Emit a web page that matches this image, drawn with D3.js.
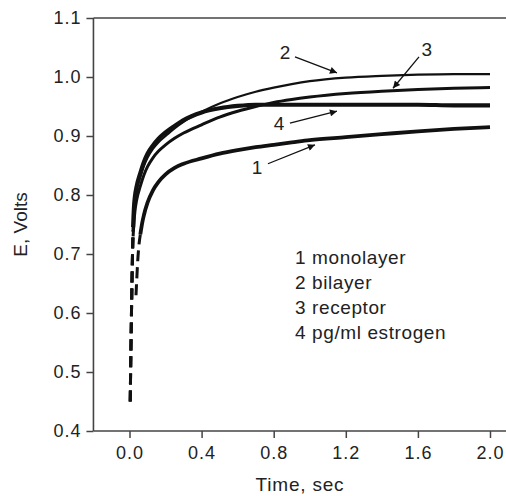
<!DOCTYPE html>
<html><head><meta charset="utf-8">
<script src="https://cdn.jsdelivr.net/npm/d3@7"></script>
<style>body{margin:0;background:#fff}svg{display:block}</style>
</head><body><svg id="c" width="506" height="496"></svg>
<script>
// ---- data ----
const xTicks = [0.0, 0.4, 0.8, 1.2, 1.6, 2.0];
const yTicks = [0.4, 0.5, 0.6, 0.7, 0.8, 0.9, 1.0, 1.1];
const timeUpper = [0.004, 0.008, 0.012, 0.016, 0.02, 0.025, 0.03, 0.04, 0.06, 0.08, 0.1, 0.13, 0.16, 0.2, 0.25, 0.3, 0.4, 0.5, 0.6, 0.7, 0.8, 0.9, 1.0, 1.2, 1.4, 1.6, 1.8, 2.0];
const estrogen = [0.45, 0.54, 0.62, 0.69, 0.745, 0.78, 0.797, 0.815, 0.837, 0.856, 0.87, 0.884, 0.895, 0.906, 0.917, 0.927, 0.94, 0.947, 0.951, 0.953, 0.953, 0.953, 0.953, 0.953, 0.953, 0.953, 0.952, 0.952];
const bilayer = [0.45, 0.54, 0.62, 0.69, 0.74, 0.772, 0.79, 0.808, 0.83, 0.849, 0.863, 0.878, 0.889, 0.9, 0.913, 0.924, 0.941, 0.955, 0.966, 0.975, 0.982, 0.988, 0.993, 0.999, 1.002, 1.004, 1.005, 1.005];
const receptor = [0.45, 0.54, 0.62, 0.69, 0.73, 0.755, 0.772, 0.792, 0.815, 0.834, 0.848, 0.863, 0.874, 0.885, 0.896, 0.905, 0.919, 0.932, 0.942, 0.95, 0.957, 0.962, 0.966, 0.972, 0.976, 0.979, 0.981, 0.982];
const timeMono = [0.036, 0.04, 0.045, 0.05, 0.06, 0.07, 0.08, 0.1, 0.13, 0.16, 0.2, 0.25, 0.3, 0.4, 0.5, 0.6, 0.7, 0.8, 0.9, 1.0, 1.2, 1.4, 1.6, 1.8, 2.0];
const monolayer = [0.63, 0.655, 0.685, 0.707, 0.733, 0.752, 0.766, 0.787, 0.808, 0.822, 0.835, 0.846, 0.853, 0.862, 0.87, 0.876, 0.881, 0.885, 0.889, 0.893, 0.898, 0.903, 0.908, 0.912, 0.915];
const legendLabels = ["1 monolayer", "2 bilayer", "3 receptor", "4 pg/ml estrogen"];
const curveLabels = ["1", "2", "3", "4"];
const labelPos = [[0.707, 0.847], [0.863, 1.042], [1.650, 1.047], [0.829, 0.922]];
const arrowFrom = [[0.768, 0.853], [0.918, 1.034], [1.606, 1.034], [0.890, 0.922]];
const arrowTo = [[1.029, 0.885], [1.151, 1.007], [1.462, 0.981], [1.151, 0.942]];

// ---- chart ----
const W = 506, H = 496;
const svg = d3.select("#c");
const x = d3.scaleLinear().domain([0, 2]).range([129.5, 490]);
const y = d3.scaleLinear().domain([0.4, 1.1]).range([431, 18]);
const x0 = x(-0.2);
const axisCol = "#444";
const font = "'Liberation Sans', Arial, Helvetica, sans-serif";

svg.append("defs").append("marker")
  .attr("id", "ah").attr("viewBox", "0 0 10 10").attr("refX", 10).attr("refY", 5)
  .attr("markerWidth", 9).attr("markerHeight", 7).attr("markerUnits", "userSpaceOnUse")
  .attr("orient", "auto")
  .append("path").attr("d", "M0,0 L10,5 L0,10 Z").attr("fill", "#111");

// frame
svg.append("line").attr("x1", x0).attr("x2", x0).attr("y1", y(1.1)).attr("y2", y(0.4))
  .attr("stroke", axisCol).attr("stroke-width", 1.6);
svg.append("line").attr("x1", x0).attr("x2", W).attr("y1", y(1.1)).attr("y2", y(1.1))
  .attr("stroke", axisCol).attr("stroke-width", 1.6);
svg.append("line").attr("x1", x0).attr("x2", W).attr("y1", y(0.4)).attr("y2", y(0.4))
  .attr("stroke", axisCol).attr("stroke-width", 1.6);

const gy = svg.append("g").attr("transform", `translate(${x0},0)`)
  .call(d3.axisLeft(y).tickValues(yTicks).tickSize(7).tickPadding(5).tickFormat(d3.format(".1f")));
gy.select(".domain").remove();
const gx = svg.append("g").attr("transform", `translate(0,${y(0.4)})`)
  .call(d3.axisBottom(x).tickValues(xTicks).tickSize(7).tickPadding(8).tickFormat(d3.format(".1f")));
gx.select(".domain").remove();
[gx, gy].forEach(g => {
  g.selectAll(".tick line").attr("stroke", axisCol).attr("stroke-width", 1.5);
  g.selectAll(".tick text").attr("fill", "#222").style("font-family", font)
    .style("font-size", "18px").style("letter-spacing", "1px");
});

svg.append("text").attr("x", 300).attr("y", 491).attr("text-anchor", "middle")
  .style("font-family", font).style("font-size", "19px").style("letter-spacing", "0.8px")
  .attr("fill", "#222").text("Time, sec");
svg.append("text").attr("transform", `translate(27,${(y(0.4) + y(1.1)) / 2}) rotate(-90)`)
  .attr("text-anchor", "middle").style("font-family", font).style("font-size", "19px")
  .attr("fill", "#222").text("E, Volts");

// curves
const line = d3.line().x(d => x(d[0])).y(d => y(d[1])).curve(d3.curveMonotoneX);
function drawSeries(ts, vs, cut, w) {
  const pts = ts.map((t, i) => [t, vs[i]]);
  const early = pts.filter(p => p[0] <= cut);
  const late = pts.filter(p => p[0] >= cut);
  svg.append("path").datum(early).attr("d", line).attr("fill", "none")
    .attr("stroke", "#111").attr("stroke-width", 3).attr("stroke-dasharray", "11,6");
  svg.append("path").datum(late).attr("d", line).attr("fill", "none")
    .attr("stroke", "#111").attr("stroke-width", w).attr("stroke-linejoin", "round");
}
drawSeries(timeMono, monolayer, 0.06, 3.8);
drawSeries(timeUpper, receptor, 0.02, 3.0);
drawSeries(timeUpper, bilayer, 0.02, 2.2);
drawSeries(timeUpper, estrogen, 0.02, 4.2);

// arrows + labels
curveLabels.forEach((lab, i) => {
  svg.append("line").attr("x1", x(arrowFrom[i][0])).attr("y1", y(arrowFrom[i][1]))
    .attr("x2", x(arrowTo[i][0])).attr("y2", y(arrowTo[i][1]))
    .attr("stroke", "#111").attr("stroke-width", 1.3).attr("marker-end", "url(#ah)");
  svg.append("text").attr("x", x(labelPos[i][0])).attr("y", y(labelPos[i][1]))
    .attr("text-anchor", "middle").attr("dominant-baseline", "central")
    .style("font-family", font).style("font-size", "19px").attr("fill", "#222").text(lab);
});

// legend
svg.append("g").selectAll("text").data(legendLabels).join("text")
  .attr("x", 295).attr("y", (d, i) => 264 + i * 25)
  .style("font-family", font).style("font-size", "19px").style("letter-spacing", "0.6px")
  .attr("fill", "#222").text(d => d);
</script></body></html>
